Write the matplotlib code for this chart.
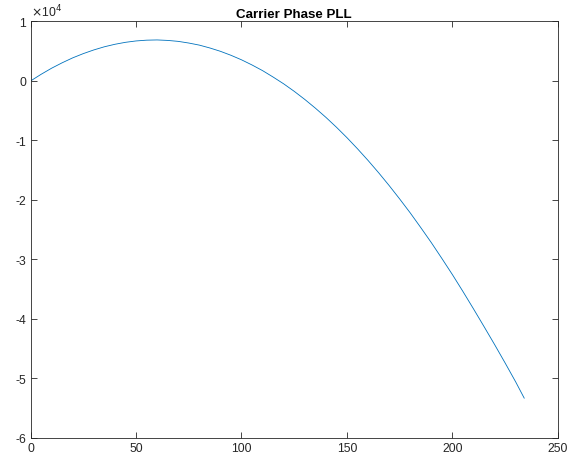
import matplotlib
matplotlib.use('Agg')
import numpy as np
import matplotlib.pyplot as plt
from matplotlib.ticker import FuncFormatter

# sample index vs. accumulated carrier phase
t = [0, 5, 10, 15, 20, 25, 30, 35, 40, 45, 50, 55, 60, 65, 70, 75,
     80, 85, 90, 95, 100, 105, 110, 115, 120, 125, 130, 135, 140,
     145, 150, 155, 160, 165, 170, 175, 180, 185, 190, 195, 200,
     205, 210, 215, 220, 225, 230, 234]
phase = [0, 1120, 2150, 3060, 3890, 4600, 5220, 5750, 6170, 6500,
         6730, 6860, 6900, 6820, 6660, 6380, 6030, 5550, 4990, 4320,
         3560, 2690, 1740, 660, -480, -1740, -3100, -4560, -6110,
         -7770, -9530, -11400, -13360, -15420, -17580, -19840, -22180,
         -24650, -27180, -29840, -32560, -35400, -38320, -41300,
         -44320, -47420, -50600, -53300]

xticks = [0, 50, 100, 150, 200, 250]
yticks = [1e4, 0, -1e4, -2e4, -3e4, -4e4, -5e4, -6e4]

plt.rcParams['font.family'] = ['Liberation Sans', 'DejaVu Sans']
plt.rcParams['axes.unicode_minus'] = False

fig = plt.figure(figsize=(5.77, 4.6), dpi=100)
ax = fig.add_axes([0.0529, 0.0457, 0.9141, 0.9054])

ax.plot(t, phase, color='#0072BD', lw=0.6)

ax.set_xlim(0, 250)
ax.set_ylim(-6e4, 1e4)
ax.set_xticks(xticks)
ax.set_yticks(yticks)
ax.yaxis.set_major_formatter(FuncFormatter(lambda v, p: '%d' % round(v / 1e4)))

grey = '#262626'
for s in ax.spines.values():
    s.set_color(grey)
    s.set_linewidth(0.6)
ax.tick_params(direction='in', top=True, right=True, length=4, width=0.6,
               colors=grey, labelsize=8.8, labelcolor=grey, pad=3)

ax.set_title('Carrier Phase PLL', fontsize=9.6, fontweight='bold', pad=3.5)
ax.text(0.0, 1.006, r'$\times$10$^4$', transform=ax.transAxes,
        fontsize=8.8, color=grey, ha='left', va='bottom')

fig.savefig('out.png', dpi=100)
